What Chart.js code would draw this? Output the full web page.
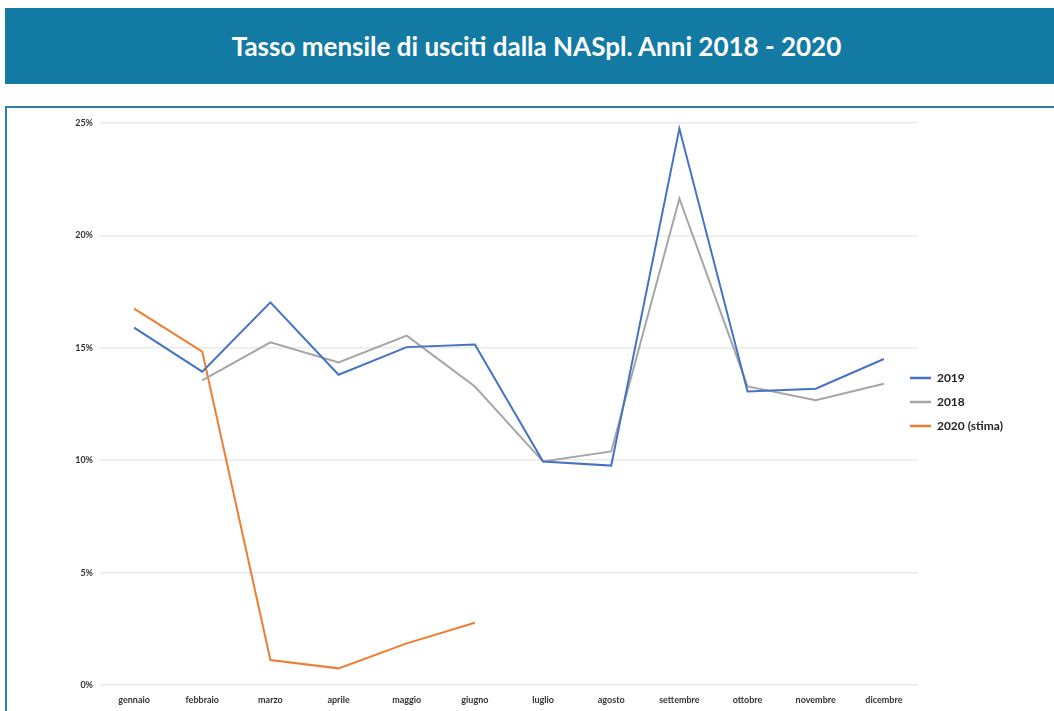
<!DOCTYPE html>
<html>
<head>
<meta charset="utf-8">
<script src="https://cdn.jsdelivr.net/npm/chart.js@4.4.0/dist/chart.umd.min.js"></script>
<style>
  html, body { margin: 0; padding: 0; background: #fff; }
  body { width: 1054px; height: 711px; overflow: hidden; position: relative; font-family: Lato, "Open Sans", sans-serif; }
  #banner {
    position: absolute; left: 5px; top: 8px; width: 1049px; height: 76px;
    background: #137aa4; color: #fff;
    font-weight: bold; font-size: 26px; line-height: 76px; text-align: center;
    padding-left: 14px; box-sizing: border-box;
  }
  #box {
    position: absolute; left: 5px; top: 106px; width: 1060px; height: 620px;
    border: 2px solid #2d7fa8; box-sizing: border-box;
  }
  #wrap { position: absolute; left: 7px; top: 108px; width: 1047px; height: 603px; }
</style>
</head>
<body>
<div id="banner">Tasso mensile di usciti dalla NASpl. Anni 2018 - 2020</div>
<div id="box"></div>
<div id="wrap"><canvas id="grafico"></canvas></div>
<script>
const mesi = ["gennaio", "febbraio", "marzo", "aprile", "maggio", "giugno",
  "luglio", "agosto", "settembre", "ottobre", "novembre", "dicembre"];

// valori in percentuale
const serie2019 = [15.9, 13.94, 17.02, 13.8, 15.03, 15.15, 9.94, 9.76, 24.75, 13.06, 13.18, 14.5];
const serie2018 = [null, 13.55, 15.24, 14.35, 15.54, 13.28, 9.94, 10.39, 21.64, 13.28, 12.67, 13.4];
const serie2020 = [16.74, 14.83, 1.11, 0.74, 1.85, 2.77, null, null, null, null, null, null];

const tickY = [0, 5, 10, 15, 20, 25];

// sposta la legenda un po' in alto e a sinistra, come nell'originale
const spostaLegenda = {
  id: "spostaLegenda",
  afterLayout(chart) {
    const l = chart.legend;
    l.top -= 15; l.bottom -= 15;
    l.left -= 20; l.right -= 20;
  }
};

const ctx = document.getElementById("grafico");

new Chart(ctx, {
  type: "line",
  data: {
    labels: mesi,
    datasets: [
      { label: "2019", data: serie2019, borderColor: "#4472c4", backgroundColor: "#4472c4" },
      { label: "2018", data: serie2018, borderColor: "#a5a5a5", backgroundColor: "#a5a5a5" },
      { label: "2020 (stima)", data: serie2020, borderColor: "#ed7d31", backgroundColor: "#ed7d31" }
    ]
  },
  plugins: [spostaLegenda],
  options: {
    responsive: true,
    maintainAspectRatio: false,
    animation: false,
    elements: {
      point: { radius: 0 },
      line: { borderWidth: 2, tension: 0 }
    },
    layout: { padding: { top: 15, right: 21, bottom: 0, left: 0 } },
    plugins: {
      legend: {
        position: "right",
        labels: {
          usePointStyle: true,
          pointStyle: "line",
          pointStyleWidth: 21,
          padding: 12,
          color: "#222",
          font: { family: "Lato", size: 12, weight: "bold" },
          generateLabels: chart =>
            Chart.defaults.plugins.legend.labels.generateLabels(chart)
              .map(l => ({ ...l, lineWidth: 2.5 }))
        }
      },
      tooltip: { enabled: false }
    },
    scales: {
      x: {
        offset: true,
        grid: { display: false, drawTicks: false },
        border: { display: false },
        ticks: {
          padding: 10,
          maxRotation: 0,
          autoSkip: false,
          color: "#333",
          font: { family: "Lato", size: 9, weight: "bold" }
        },
        afterFit: s => { s.height = 26; }
      },
      y: {
        min: 0,
        max: 25,
        afterBuildTicks: s => { s.ticks = tickY.map(v => ({ value: v })); },
        grid: { color: "#e9e9e9", lineWidth: 1.5, drawTicks: false },
        border: { display: false },
        ticks: {
          padding: 7,
          color: "#333",
          font: { family: "Lato", size: 9, weight: "bold" },
          callback: v => v + "%"
        },
        afterFit: s => { s.width = 93; }
      }
    }
  }
});
</script>
</body>
</html>
